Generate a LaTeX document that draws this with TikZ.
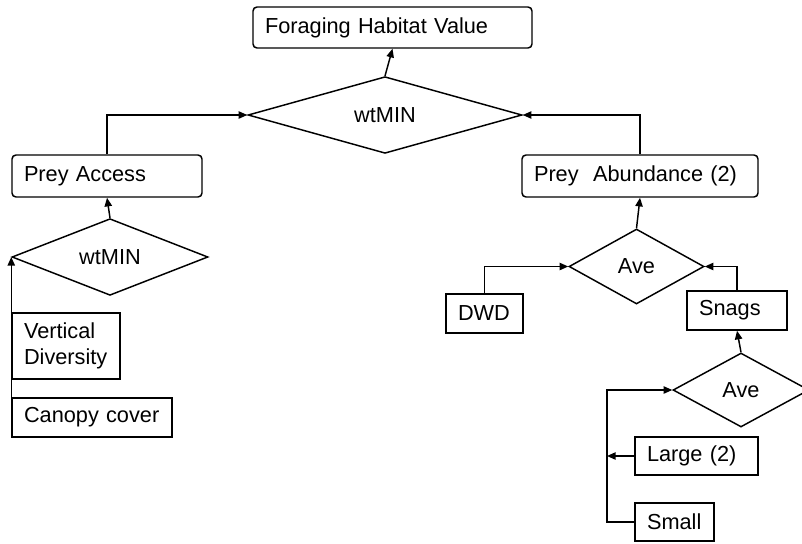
\documentclass[tikz,border=0pt]{standalone}
\usepackage{fontspec}
\setmainfont{Liberation Sans}
\usetikzlibrary{shapes.geometric, arrows.meta, positioning}

\begin{document}
\begin{tikzpicture}[
  x=0.75pt, y=-0.75pt,
  every node/.style={font=\fontsize{16.3}{20}\selectfont},
  box/.style={draw, rectangle, line width=1.1pt, inner xsep=9pt,
              inner ysep=0pt, align=left},
  rbox/.style={box, rounded corners=3pt},
  dmd/.style={draw, diamond, line width=1.1pt, inner sep=0pt, align=center},
  arr/.style={line width=1.1pt, -{Triangle[length=6.5pt, width=5.5pt]}},
  ln/.style={line width=1.1pt}
]
\useasboundingbox (0,0) rectangle (802,543);
% Top level
\node[rbox, text width=191.25pt, minimum height=30.75pt] (fhv) at (392.5,27.5) {Foraging Habitat Value};
\node[dmd, minimum width=205.5pt, minimum height=56.25pt] (d0) at (385,115) {wtMIN};
% Prey access branch
\node[rbox, text width=124.5pt, minimum height=31.5pt] (pa) at (107,176) {Prey Access};
\node[dmd, minimum width=147pt, minimum height=57pt] (d1) at (110,257) {wtMIN};
\node[box, text width=63pt, minimum height=49.5pt] (vd) at (66,346) {Vertical\\Diversity};
\node[box, text width=102pt, minimum height=29.25pt] (cc) at (92,417.5) {Canopy\ cover};
% Prey abundance branch
\node[rbox, text width=159pt, minimum height=31.5pt] (pab) at (640,176) {Prey\ \ Abundance (2)};
\node[dmd, minimum width=101.25pt, minimum height=56.25pt] (d2) at (636.5,266.5) {Ave};
\node[box, text width=39.75pt, minimum height=29.25pt] (dwd) at (484.5,313.5) {DWD};
\node[box, text width=57pt, minimum height=29.25pt] (sn) at (737,310.5) {Snags};
\node[dmd, minimum width=102pt, minimum height=55.5pt] (d3) at (741,390) {Ave};
\node[box, text width=74.25pt, minimum height=28.5pt] (lg) at (696.5,456) {Large (2)};
\node[box, text width=41.25pt, minimum height=28.5pt] (sm) at (674.5,522) {Small};
\coordinate (bus) at (607,456);
% Connectors
\draw[arr] (d0.north) -- (fhv.south);
\draw[arr] (pa.north) |- (d0.west);
\draw[arr] (pab.north) |- (d0.east);
\draw[arr] (d1.north) -- (pa.south);
\draw[arr] (vd.north west) -- (d1.west);
\draw[ln]  (cc.north west) -- (vd.south west);
\draw[arr] (d2.north) -- (pab.south);
\draw[arr] (dwd.north) |- (d2.west);
\draw[arr] (sn.north) |- (d2.east);
\draw[arr] (d3.north) -- (sn.south);
\draw[arr] (sm.west) -| (bus) |- (d3.west);
\draw[arr] (lg.west) -- (bus);
\end{tikzpicture}
\end{document}
